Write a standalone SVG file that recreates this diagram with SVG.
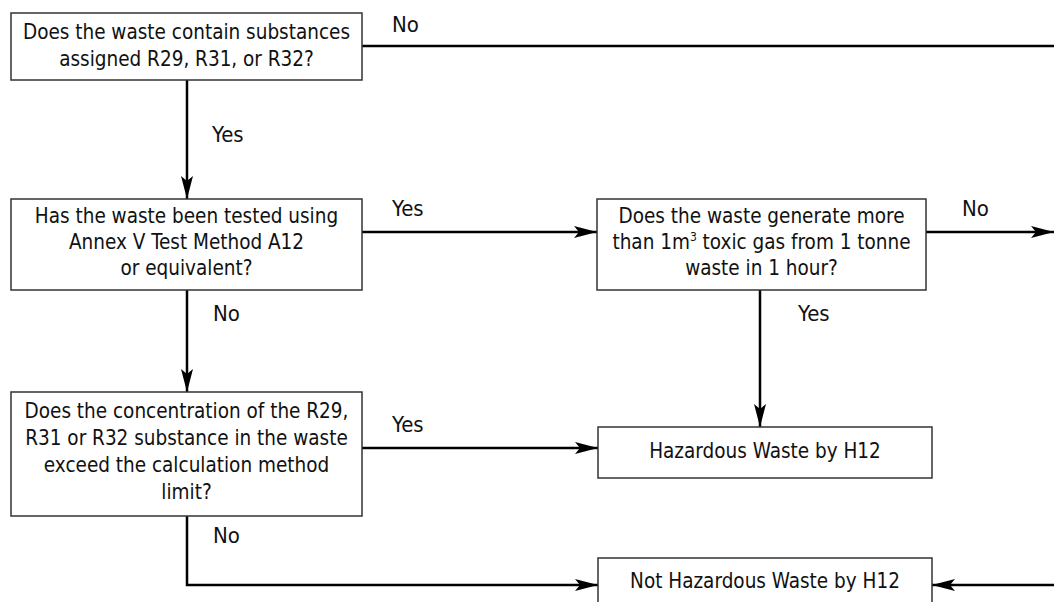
<svg xmlns="http://www.w3.org/2000/svg" width="1054" height="602" viewBox="0 0 1054 602">
<style>
.box{fill:#fff;stroke:#333;stroke-width:1.5}
.t{font-family:"DejaVu Sans Condensed","DejaVu Sans",sans-serif;font-stretch:condensed;font-size:20.5px;fill:#111;text-anchor:middle}
.lbl{font-family:"DejaVu Sans Condensed","DejaVu Sans",sans-serif;font-stretch:condensed;font-size:22px;fill:#111}
.c{fill:none;stroke:#000;stroke-width:2.5}
</style>
<defs>
<marker id="arr" markerUnits="userSpaceOnUse" markerWidth="24" markerHeight="12" refX="23" refY="6" orient="auto">
<path d="M0,0 L23,6 L0,12 L5,6 z" fill="#000"/>
</marker>
</defs>
<rect width="1054" height="602" fill="#fff"/>
<g id="connectors">
<path class="c" d="M362,46 H1054"/>
<path class="c" d="M187,80 V199" marker-end="url(#arr)"/>
<path class="c" d="M362,232 H597" marker-end="url(#arr)"/>
<path class="c" d="M926,232 H1054" marker-end="url(#arr)"/>
<path class="c" d="M760,290 V427" marker-end="url(#arr)"/>
<path class="c" d="M187,290 V392" marker-end="url(#arr)"/>
<path class="c" d="M362,448 H598" marker-end="url(#arr)"/>
<path class="c" d="M187,516 V585 H598" marker-end="url(#arr)"/>
<path class="c" d="M1054,585 H932" marker-end="url(#arr)"/>
<text class="lbl" x="392" y="32">No</text>
<text class="lbl" x="212" y="142">Yes</text>
<text class="lbl" x="392" y="216">Yes</text>
<text class="lbl" x="962" y="216">No</text>
<text class="lbl" x="798" y="321">Yes</text>
<text class="lbl" x="213" y="321">No</text>
<text class="lbl" x="392" y="432">Yes</text>
<text class="lbl" x="213" y="543">No</text>
</g>
<g id="q1">
<rect class="box" x="11" y="13" width="351" height="67"/>
<text class="t" x="186.5" y="39">Does the waste contain substances</text>
<text class="t" x="186.5" y="66">assigned R29, R31, or R32?</text>
</g>
<g id="q2">
<rect class="box" x="11" y="199" width="351" height="91"/>
<text class="t" x="186.5" y="223">Has the waste been tested using</text>
<text class="t" x="186.5" y="249">Annex V Test Method A12</text>
<text class="t" x="186.5" y="275">or equivalent?</text>
</g>
<g id="q3">
<rect class="box" x="597" y="199" width="329" height="91"/>
<text class="t" x="761.5" y="223">Does the waste generate more</text>
<text class="t" x="761.5" y="249">than 1m<tspan dy="-8" font-size="12">3</tspan><tspan dy="8"> toxic gas from 1 tonne</tspan></text>
<text class="t" x="761.5" y="275">waste in 1 hour?</text>
</g>
<g id="q4">
<rect class="box" x="11" y="392" width="351" height="124"/>
<text class="t" x="186.5" y="418">Does the concentration of the R29,</text>
<text class="t" x="186.5" y="445">R31 or R32 substance in the waste</text>
<text class="t" x="186.5" y="472">exceed the calculation method</text>
<text class="t" x="186.5" y="499">limit?</text>
</g>
<g id="haz">
<rect class="box" x="598" y="427" width="334" height="51"/>
<text class="t" x="765" y="458">Hazardous Waste by H12</text>
</g>
<g id="nothaz">
<rect class="box" x="598" y="558" width="334" height="60"/>
<text class="t" x="765" y="588">Not Hazardous Waste by H12</text>
</g>
</svg>
